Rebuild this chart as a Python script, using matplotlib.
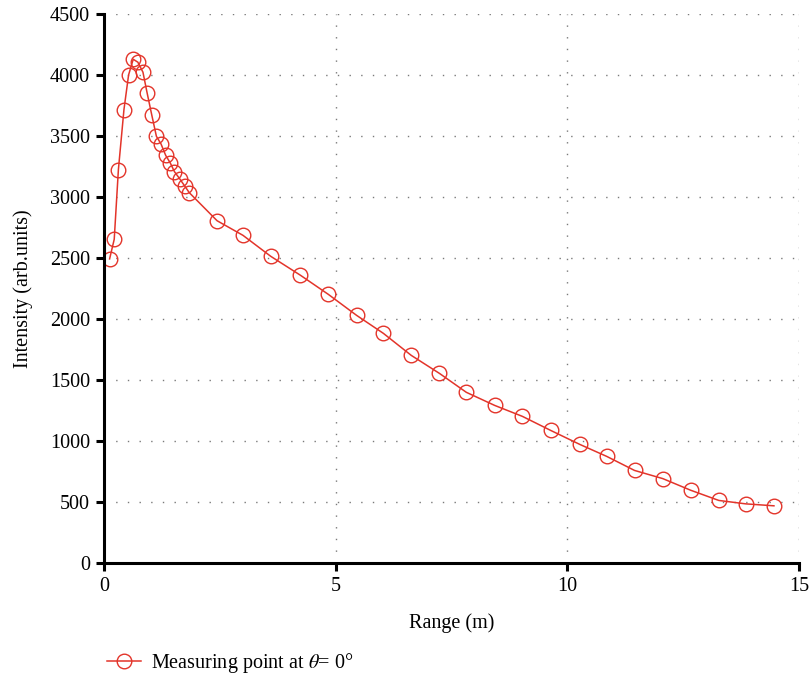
import matplotlib
matplotlib.use("Agg")
import matplotlib.pyplot as plt

plt.rcParams.update({
    "font.family": ["Liberation Serif", "DejaVu Serif"],
    "mathtext.fontset": "stix",
    "font.size": 14.5,
})

RED = "#e3342a"

# range (m) vs measured intensity
range_m = [0.12, 0.22, 0.31, 0.43, 0.53, 0.63, 0.73, 0.84, 0.93, 1.03,
           1.13, 1.23, 1.33, 1.43, 1.52, 1.64, 1.74, 1.84, 2.44, 3.0,
           3.6, 4.24, 4.84, 5.45, 6.03, 6.63, 7.24, 7.82, 8.43, 9.03,
           9.64, 10.27, 10.85, 11.45, 12.06, 12.66, 13.27, 13.85, 14.46]
intensity = [2495, 2656, 3227, 3719, 4003, 4131, 4107, 4025, 3855, 3675,
             3500, 3437, 3344, 3281, 3210, 3148, 3093, 3038, 2808, 2688,
             2516, 2361, 2205, 2033, 1885, 1705, 1557, 1402, 1295, 1205,
             1090, 975, 877, 762, 695, 600, 516, 488, 472]

fig = plt.figure(figsize=(8.09, 6.78), dpi=100)
ax = fig.add_axes([0.1286, 0.169, 0.8590, 0.810])

ax.plot(range_m, intensity, "-o", color=RED, lw=1.1, ms=10.5, mfc="none",
        mec=RED, mew=1.0, label=r"Measuring point at $\theta$= 0°")

ax.set_xlim(0, 15)
ax.set_ylim(0, 4500)
ax.set_xticks([0, 5, 10, 15])
ax.set_yticks(range(0, 4501, 500))
ax.set_xlabel("Range (m)", labelpad=12)
ax.set_ylabel("Intensity (arb.units)", labelpad=12)

for s in ("top", "right"):
    ax.spines[s].set_visible(False)
for s in ("left", "bottom"):
    ax.spines[s].set_linewidth(2.2)
ax.tick_params(direction="out", width=2.2, length=6, colors="black",
               labelsize=14.5, pad=4)
ax.grid(True, ls=(0, (1, 7.4)), color="#7a7a7a", lw=1.0)
ax.set_axisbelow(True)

fig.legend(loc="lower left", bbox_to_anchor=(0.11, -0.022), frameon=False,
           handlelength=1.7, handletextpad=0.5, fontsize=14.5)

fig.savefig("out.png", dpi=100)
